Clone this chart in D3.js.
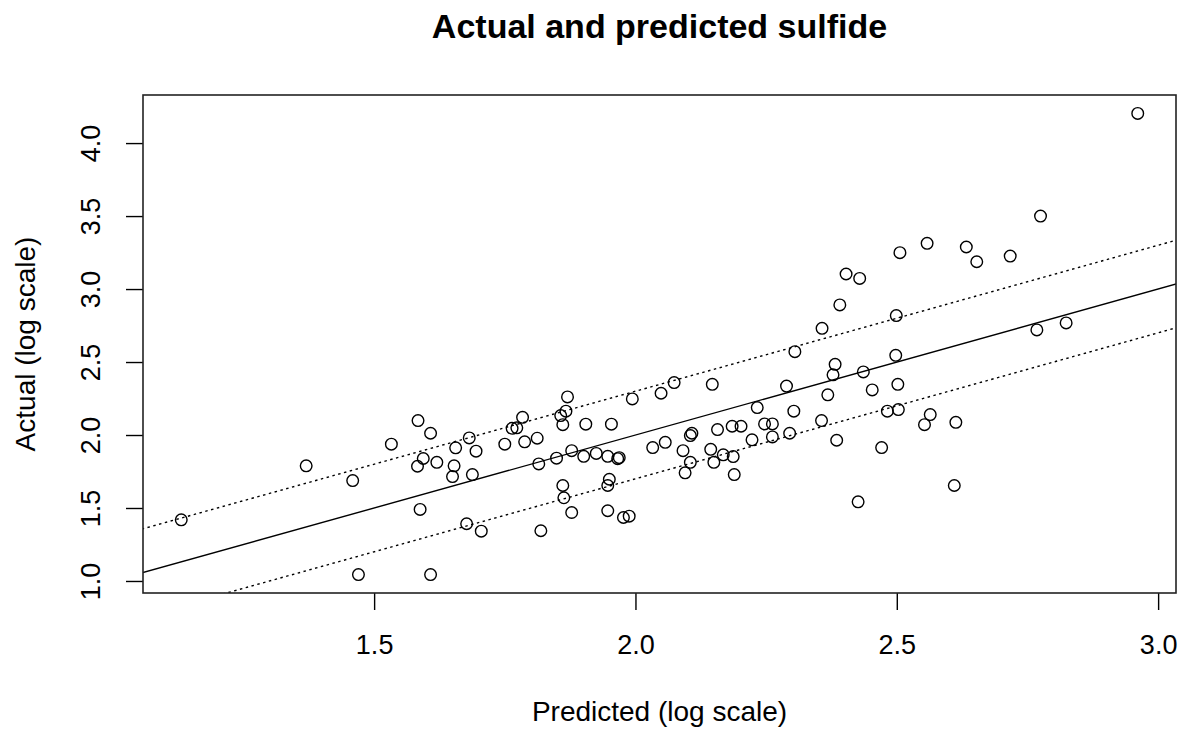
<!DOCTYPE html>
<html>
<head>
<meta charset="utf-8">
<script src="https://cdn.jsdelivr.net/npm/d3@7"></script>
<style>
  body { margin: 0; background: #fff; }
  text { font-family: "Liberation Sans", Arial, sans-serif; fill: #000; }
</style>
</head>
<body>
<div id="chart"></div>
<script>
// Predicted values (x) and actual values (y), both on log scale
const predicted = [
  1.131, 1.370, 1.459, 1.470, 1.533, 1.584, 1.608, 1.594, 1.583, 1.620,
  1.588, 1.608, 1.656, 1.682, 1.695, 1.653, 1.650, 1.688, 1.677, 1.705,
  1.750, 1.764, 1.773, 1.784, 1.788, 1.812, 1.815, 1.819, 1.849, 1.870,
  1.867, 1.857, 1.861, 1.861, 1.863, 1.878, 1.878, 1.901, 1.905, 1.925,
  1.947, 1.954, 1.966, 1.969, 1.950, 1.947, 1.947, 1.977, 1.988, 1.994,
  2.033, 2.057, 2.049, 2.074, 2.147, 2.305, 2.091, 2.108, 2.105, 2.105,
  2.095, 2.144, 2.150, 2.168, 2.187, 2.189, 2.157, 2.185, 2.202, 2.223,
  2.233, 2.247, 2.262, 2.262, 2.295, 2.289, 2.303, 2.356, 2.368, 2.378,
  2.382, 2.385, 2.436, 2.453, 2.471, 2.426, 2.482, 2.503, 2.502, 2.498,
  2.357, 2.391, 2.403, 2.429, 2.961, 2.775, 2.506, 2.558, 2.633, 2.653,
  2.717, 2.499, 2.768, 2.824, 2.564, 2.553, 2.613, 2.610
];
const actual = [
  1.419, 1.789, 1.688, 1.044, 1.937, 2.099, 2.012, 1.839, 1.786, 1.813,
  1.490, 1.044, 1.912, 1.980, 1.889, 1.789, 1.715, 1.729, 1.392, 1.341,
  1.937, 2.046, 2.049, 2.121, 1.953, 1.978, 1.802, 1.344, 1.841, 2.261,
  2.163, 2.133, 2.071, 1.654, 1.570, 1.469, 1.893, 1.854, 2.074, 1.874,
  1.854, 2.074, 1.838, 1.845, 1.697, 1.654, 1.481, 1.435, 1.444, 2.247,
  1.914, 1.950, 2.286, 2.359, 2.347, 2.571, 1.893, 2.012, 1.996, 1.813,
  1.741, 1.902, 1.813, 1.864, 1.852, 1.729, 2.037, 2.060, 2.060, 1.967,
  2.188, 2.076, 2.076, 1.987, 2.012, 2.335, 2.163, 2.099, 2.275, 2.412,
  2.484, 1.964, 2.432, 2.309, 1.914, 1.542, 2.163, 2.174, 2.347, 2.546,
  2.731, 2.891, 3.103, 3.073, 4.203, 3.500, 3.249, 3.313, 3.288, 3.187,
  3.226, 2.818, 2.720, 2.768, 2.140, 2.071, 2.087, 1.654
];

// Reference line (actual = predicted) and dotted band offsets
const lineX = [1.0, 3.1];
const bandOffsets = [0.3, -0.3];

const xTicks = [1.5, 2.0, 2.5, 3.0];
const yTicks = [1.0, 1.5, 2.0, 2.5, 3.0, 3.5, 4.0];

const points = predicted.map((p, i) => ({ x: p, y: actual[i] }));

// Layout
const width = 1184, height = 731;
const margin = { top: 95, right: 8, bottom: 138, left: 143 };
const plotW = width - margin.left - margin.right;
const plotH = height - margin.top - margin.bottom;

// R style 4% padding around the data range
function padded(ext) {
  const pad = (ext[1] - ext[0]) * 0.04;
  return [ext[0] - pad, ext[1] + pad];
}

const xScale = d3.scaleLinear()
  .domain(padded(d3.extent(predicted)))
  .range([0, plotW]);

const yScale = d3.scaleLinear()
  .domain(padded(d3.extent(actual)))
  .range([plotH, 0]);

const svg = d3.select("#chart")
  .append("svg")
  .attr("width", width)
  .attr("height", height);

// Title
svg.append("text")
  .attr("x", margin.left + plotW / 2)
  .attr("y", 38)
  .attr("text-anchor", "middle")
  .attr("font-size", "34px")
  .attr("font-weight", "bold")
  .text("Actual and predicted sulfide");

const g = svg.append("g")
  .attr("transform", `translate(${margin.left},${margin.top})`);

g.append("clipPath")
  .attr("id", "clip")
  .append("rect")
  .attr("width", plotW)
  .attr("height", plotH);

const plot = g.append("g").attr("clip-path", "url(#clip)");

// Solid line y = x
const line = d3.line()
  .x(d => xScale(d.x))
  .y(d => yScale(d.y));

plot.append("path")
  .datum(lineX.map(x => ({ x: x, y: x })))
  .attr("d", line)
  .attr("fill", "none")
  .attr("stroke", "#000")
  .attr("stroke-width", 1.4);

// Dotted band lines
bandOffsets.forEach(off => {
  plot.append("path")
    .datum(lineX.map(x => ({ x: x, y: x + off })))
    .attr("d", line)
    .attr("fill", "none")
    .attr("stroke", "#000")
    .attr("stroke-width", 1.4)
    .attr("stroke-dasharray", "2.5,3.5");
});

// Points
plot.selectAll("circle")
  .data(points)
  .enter()
  .append("circle")
  .attr("cx", d => xScale(d.x))
  .attr("cy", d => yScale(d.y))
  .attr("r", 5.8)
  .attr("fill", "none")
  .attr("stroke", "#000")
  .attr("stroke-width", 1.4);

// X axis
const xAxis = g.append("g")
  .attr("transform", `translate(0,${plotH})`)
  .call(d3.axisBottom(xScale).tickValues(xTicks).tickSize(17).tickPadding(25)
    .tickFormat(d3.format(".1f")));
xAxis.select(".domain").remove();
xAxis.selectAll(".tick line").attr("stroke", "#000").attr("stroke-width", 1.4);
xAxis.selectAll("text")
  .attr("font-size", "27px")
  .attr("font-family", "Liberation Sans, Arial, sans-serif")
  .attr("fill", "#000");

// Y axis with rotated labels
const yAxis = g.append("g")
  .call(d3.axisLeft(yScale).tickValues(yTicks).tickSize(17)
    .tickFormat(d3.format(".1f")));
yAxis.select(".domain").remove();
yAxis.selectAll(".tick line").attr("stroke", "#000").attr("stroke-width", 1.4);
yAxis.selectAll("text")
  .attr("x", null)
  .attr("dy", null)
  .attr("text-anchor", "middle")
  .attr("transform", "translate(-43,0) rotate(-90)")
  .attr("font-size", "27px")
  .attr("font-family", "Liberation Sans, Arial, sans-serif")
  .attr("fill", "#000");

// Plot box
g.append("rect")
  .attr("width", plotW)
  .attr("height", plotH)
  .attr("fill", "none")
  .attr("stroke", "#222")
  .attr("stroke-width", 1.6);

// Axis titles
svg.append("text")
  .attr("x", margin.left + plotW / 2)
  .attr("y", 721)
  .attr("text-anchor", "middle")
  .attr("font-size", "28px")
  .text("Predicted (log scale)");

svg.append("text")
  .attr("transform", `translate(35,${margin.top + plotH / 2}) rotate(-90)`)
  .attr("text-anchor", "middle")
  .attr("font-size", "28px")
  .text("Actual (log scale)");
</script>
</body>
</html>
